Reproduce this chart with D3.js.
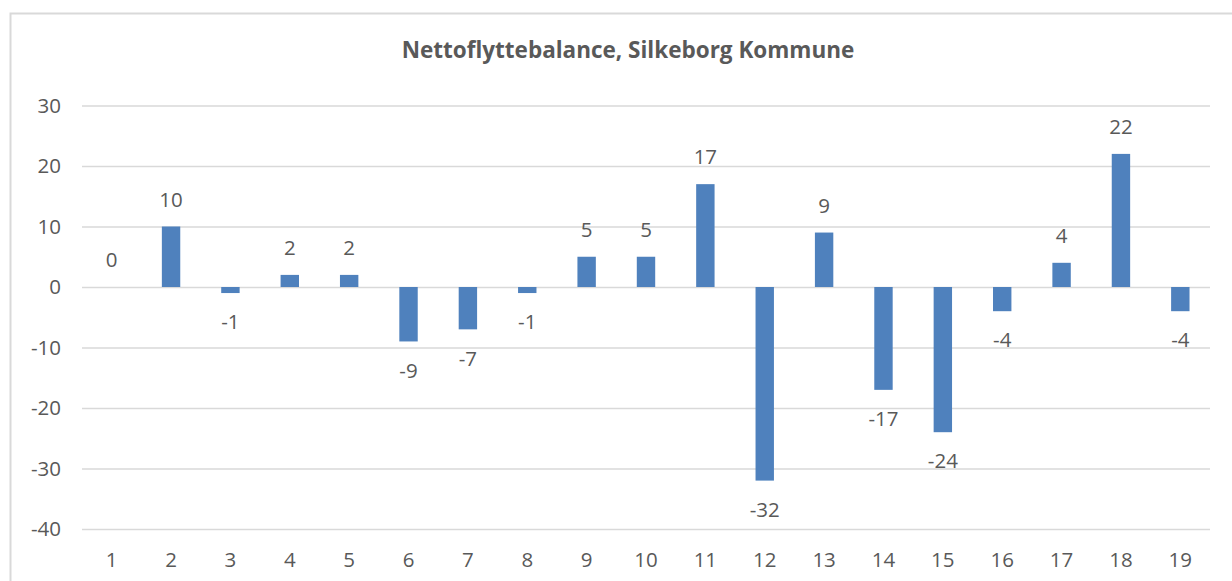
<!DOCTYPE html>
<html lang="da">
<head>
<meta charset="utf-8">
<title>Nettoflyttebalance</title>
<script src="https://cdn.jsdelivr.net/npm/d3@7"></script>
<style>
  body { margin: 0; background: #fff; }
  svg text { font-family: "Open Sans", "Liberation Sans", Arial, sans-serif; fill: #595959; }
</style>
</head>
<body>
<script>
// data
var categories = ["1","2","3","4","5","6","7","8","9","10","11","12","13","14","15","16","17","18","19"];
var values = [0, 10, -1, 2, 2, -9, -7, -1, 5, 5, 17, -32, 9, -17, -24, -4, 4, 22, -4];
var yTicks = [30, 20, 10, 0, -10, -20, -30, -40];
var title = "Nettoflyttebalance, Silkeborg Kommune";

var W = 1232, H = 581;
var margin = {top: 105.5, left: 82, right: 22, bottom: 52};
var fs = 20.5;

var svg = d3.select("body").append("svg")
  .attr("width", W).attr("height", H);

// chart frame, runs off the right and bottom edge in the reference
svg.append("rect")
  .attr("x", 10.5).attr("y", 13.5)
  .attr("width", W + 20).attr("height", H + 20)
  .attr("fill", "none").attr("stroke", "#d9d9d9").attr("stroke-width", 2);

var x = d3.scaleBand()
  .domain(categories)
  .range([margin.left, W - margin.right])
  .paddingInner(0.69).paddingOuter(0.345);

var y = d3.scaleLinear()
  .domain([-40, 30])
  .range([H - margin.bottom, margin.top]);

// plain hyphen for negatives, like the original
var fmt = function(d) { return String(d); };

// gridlines + y labels
var yAxis = d3.axisLeft(y)
  .tickValues(yTicks)
  .tickSize(-(W - margin.right - margin.left))
  .tickPadding(21)
  .tickFormat(fmt);

var gy = svg.append("g")
  .attr("transform", "translate(" + margin.left + ",0)")
  .call(yAxis);
gy.select(".domain").remove();
gy.selectAll("line").attr("stroke", "#d9d9d9").attr("stroke-width", 1.5);
gy.selectAll("text").attr("font-size", fs).attr("fill", "#595959");

// x labels
var xAxis = d3.axisBottom(x).tickSize(0).tickPadding(23);
var gx = svg.append("g")
  .attr("transform", "translate(0," + y(-40) + ")")
  .call(xAxis);
gx.select(".domain").remove();
gx.selectAll("text").attr("font-size", fs).attr("fill", "#595959");

// bars
svg.append("g").selectAll("rect")
  .data(values)
  .join("rect")
  .attr("x", function(d, i) { return x(categories[i]); })
  .attr("width", x.bandwidth())
  .attr("y", function(d) { return y(Math.max(d, 0)); })
  .attr("height", function(d) { return Math.abs(y(d) - y(0)); })
  .attr("fill", "#4f81bd");

// data labels
svg.append("g").selectAll("text")
  .data(values)
  .join("text")
  .attr("x", function(d, i) { return x(categories[i]) + x.bandwidth() / 2; })
  .attr("y", function(d) { return d >= 0 ? y(d) - 27 : y(d) + 29; })
  .attr("dy", "0.35em")
  .attr("text-anchor", "middle")
  .attr("font-size", fs)
  .text(fmt);

// title
svg.append("text")
  .attr("x", 628).attr("y", 50)
  .attr("dy", "0.35em")
  .attr("text-anchor", "middle")
  .attr("font-size", 22.5)
  .attr("font-weight", "bold")
  .text(title);
</script>
</body>
</html>
